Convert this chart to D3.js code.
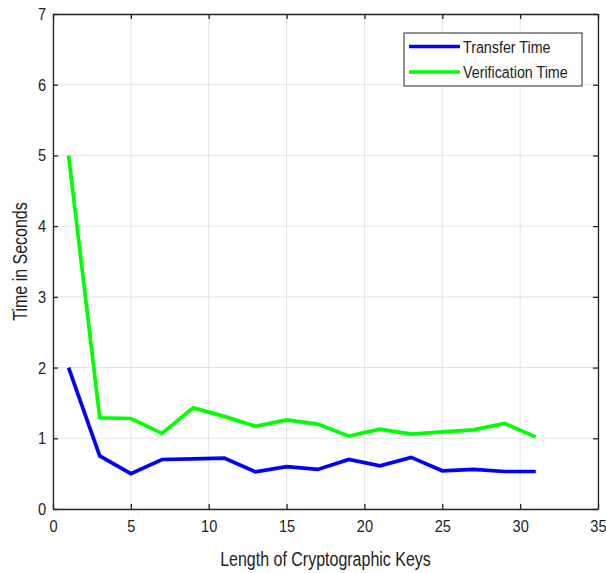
<!DOCTYPE html>
<html>
<head>
<meta charset="utf-8">
<script src="https://cdn.jsdelivr.net/npm/d3@7"></script>
<style>
  body { margin: 0; background: #fff; }
  svg { font-family: "Liberation Sans", Arial, sans-serif; }
</style>
</head>
<body>
<div id="chart"></div>
<script>
// key lengths on the x axis
const keyLengths = [1, 3, 5, 7, 9, 11, 13, 15, 17, 19, 21, 23, 25, 27, 29, 31];
// series values, seconds
const transferTime = [2.0, 0.75, 0.50, 0.70, 0.71, 0.72, 0.525, 0.60, 0.56, 0.70, 0.61, 0.73, 0.54, 0.56, 0.53, 0.53];
const verificationTime = [5.0, 1.29, 1.28, 1.07, 1.43, 1.31, 1.17, 1.26, 1.20, 1.03, 1.13, 1.06, 1.09, 1.12, 1.21, 1.02];
const xTicks = [0, 5, 10, 15, 20, 25, 30, 35];
const yTicks = [0, 1, 2, 3, 4, 5, 6, 7];

const width = 606, height = 573;
const margin = { top: 14, right: 8, bottom: 64, left: 53 };
const iw = width - margin.left - margin.right;
const ih = height - margin.top - margin.bottom;

const svg = d3.select("#chart").append("svg")
    .attr("width", width)
    .attr("height", height);

const g = svg.append("g")
    .attr("transform", `translate(${margin.left},${margin.top})`);

const x = d3.scaleLinear().domain([0, 35]).range([0, iw]);
const y = d3.scaleLinear().domain([0, 7]).range([ih, 0]);

// grid
g.append("g").selectAll("line")
    .data(xTicks)
    .join("line")
    .attr("x1", d => x(d)).attr("x2", d => x(d))
    .attr("y1", 0).attr("y2", ih)
    .attr("stroke", "#e3e3e3").attr("stroke-width", 1);
g.append("g").selectAll("line")
    .data(yTicks)
    .join("line")
    .attr("x1", 0).attr("x2", iw)
    .attr("y1", d => y(d)).attr("y2", d => y(d))
    .attr("stroke", "#e3e3e3").attr("stroke-width", 1);

// axes, ticks pointing inward like MATLAB
const axisColor = "#262626";
const fmt = d3.format("d");
const xAxis = g.append("g")
    .attr("transform", `translate(0,${ih})`)
    .call(d3.axisBottom(x).tickValues(xTicks).tickFormat(fmt).tickSizeInner(-5).tickSizeOuter(0).tickPadding(11));
const xTop = g.append("g")
    .call(d3.axisTop(x).tickValues(xTicks).tickSizeInner(-5).tickSizeOuter(0).tickFormat(""));
const yAxis = g.append("g")
    .call(d3.axisLeft(y).tickValues(yTicks).tickFormat(fmt).tickSizeInner(-5).tickSizeOuter(0).tickPadding(8));
const yRight = g.append("g")
    .attr("transform", `translate(${iw},0)`)
    .call(d3.axisRight(y).tickValues(yTicks).tickSizeInner(-5).tickSizeOuter(0).tickFormat(""));

[xAxis, xTop, yAxis, yRight].forEach(a => {
    a.attr("font-size", null).attr("font-family", null);
    a.select(".domain").attr("stroke", axisColor).attr("stroke-width", 1.3);
    a.selectAll(".tick line").attr("stroke", axisColor).attr("stroke-width", 1.3);
    a.selectAll(".tick text")
        .attr("fill", "#222")
        .style("font-size", "17px")
        .attr("transform", "scale(0.86,1)");
});

// lines
const line = d3.line()
    .x((d, i) => x(keyLengths[i]))
    .y(d => y(d));

g.append("path")
    .datum(transferTime)
    .attr("fill", "none")
    .attr("stroke", "#0000ff")
    .attr("stroke-width", 3.7)
    .attr("d", line);

g.append("path")
    .datum(verificationTime)
    .attr("fill", "none")
    .attr("stroke", "#00ff00")
    .attr("stroke-width", 3.7)
    .attr("d", line);

// axis titles
svg.append("text")
    .attr("transform", `translate(${margin.left + iw / 2},566) scale(0.82,1)`)
    .attr("text-anchor", "middle")
    .style("font-size", "19.5px")
    .attr("fill", "#222")
    .text("Length of Cryptographic Keys");

svg.append("text")
    .attr("transform", `translate(27,${margin.top + ih / 2}) rotate(-90) scale(0.82,1)`)
    .attr("text-anchor", "middle")
    .style("font-size", "19.5px")
    .attr("fill", "#222")
    .text("Time in Seconds");

// legend
const legendItems = [
    { name: "Transfer Time", color: "#0000ff" },
    { name: "Verification Time", color: "#00ff00" }
];
const lg = svg.append("g").attr("transform", "translate(404,33)");
lg.append("rect")
    .attr("width", 178).attr("height", 53)
    .attr("fill", "#fff")
    .attr("stroke", "#262626").attr("stroke-width", 1);
legendItems.forEach((d, i) => {
    const yy = 13.5 + i * 25.5;
    lg.append("line")
        .attr("x1", 5).attr("x2", 56)
        .attr("y1", yy).attr("y2", yy)
        .attr("stroke", d.color).attr("stroke-width", 3.7);
    lg.append("text")
        .attr("transform", `translate(59,${yy + 6}) scale(0.84,1)`)
        .style("font-size", "17px")
        .attr("fill", "#222")
        .text(d.name);
});
</script>
</body>
</html>
